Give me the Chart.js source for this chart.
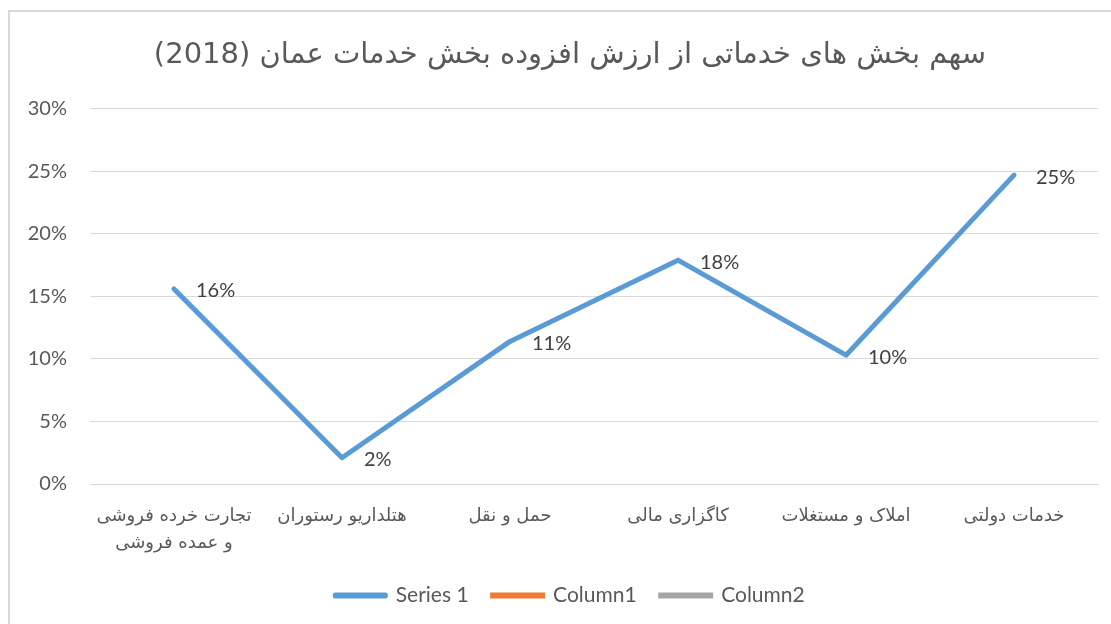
<!DOCTYPE html>
<html>
<head>
<meta charset="utf-8">
<script src="https://cdn.jsdelivr.net/npm/chart.js@4"></script>
<style>
html,body{margin:0;padding:0;background:#fff;width:1111px;height:624px;overflow:hidden;position:relative;}
#frame{position:absolute;left:8px;top:10px;width:1124px;height:624px;border-left:2px solid #D9D9D9;border-top:2px solid #D9D9D9;box-sizing:border-box;}
#c{position:absolute;left:8px;top:10px;}
</style>
</head>
<body>
<div id="frame"></div>
<canvas id="c" width="1124" height="624"></canvas>
<script>
const chartTitle = 'سهم بخش های خدماتی از ارزش افزوده بخش خدمات عمان (2018)';
const categories = [
  ['تجارت خرده فروشی', 'و عمده فروشی'],
  'هتلداریو رستوران',
  'حمل و نقل',
  'کاگزاری مالی',
  'املاک و مستغلات',
  'خدمات دولتی'
];
const series1 = [15.6, 2.1, 11.4, 17.9, 10.3, 24.7];
const column1 = [];
const column2 = [];
const yTicks = [0, 5, 10, 15, 20, 25, 30];

const latin = 'Lato, "Open Sans", sans-serif';
const arabic = '"DejaVu Sans", sans-serif';
const textColor = '#595959';

const dataLabels = {
  id: 'dataLabels',
  afterDatasetsDraw(chart) {
    const ctx = chart.ctx;
    const meta = chart.getDatasetMeta(0);
    ctx.save();
    ctx.font = '20px ' + latin;
    ctx.fillStyle = '#404040';
    ctx.textAlign = 'left';
    ctx.textBaseline = 'middle';
    meta.data.forEach((pt, i) => {
      ctx.fillText(Math.round(series1[i]) + '%', pt.x + 22, pt.y + 2);
    });
    ctx.restore();
  }
};

new Chart(document.getElementById('c'), {
  type: 'line',
  data: {
    labels: categories,
    datasets: [
      {label: 'Series 1', data: series1, borderColor: '#5B9BD5', backgroundColor: '#5B9BD5', borderWidth: 5, pointRadius: 0, borderCapStyle: 'round', borderJoinStyle: 'round', tension: 0},
      {label: 'Column1', data: column1, borderColor: '#ED7D31', backgroundColor: '#ED7D31', borderWidth: 5, pointRadius: 0, borderCapStyle: 'round'},
      {label: 'Column2', data: column2, borderColor: '#A5A5A5', backgroundColor: '#A5A5A5', borderWidth: 5, pointRadius: 0, borderCapStyle: 'round'}
    ]
  },
  options: {
    responsive: false,
    animation: false,
    devicePixelRatio: 1,
    layout: {padding: {left: 0, right: 0, top: 0, bottom: 18}},
    plugins: {
      tooltip: {enabled: false},
      title: {
        display: true,
        text: '\u202B' + chartTitle + '\u202C',
        color: textColor,
        font: {family: arabic, size: 29, weight: 'normal'},
        padding: {top: 28, bottom: 36}
      },
      legend: {
        position: 'bottom',
        labels: {
          color: textColor,
          font: {family: latin, size: 21},
          boxWidth: 50,
          boxHeight: 1,
          padding: 24
        }
      }
    },
    scales: {
      x: {
        offset: true,
        grid: {display: false, drawTicks: false},
        border: {display: true, color: '#D9D9D9', width: 1},
        ticks: {color: textColor, font: {family: arabic, size: 18, lineHeight: 1.5}, maxRotation: 0, autoSkip: false, padding: 19},
        afterFit(scale) { scale.height -= 15; }
      },
      y: {
        min: 0, max: 30,
        afterBuildTicks(scale) { scale.ticks = yTicks.map(v => ({value: v})); },
        afterFit(scale) { scale.width = 82; },
        grid: {color: '#D9D9D9', lineWidth: 1, drawTicks: false},
        border: {display: false},
        ticks: {color: textColor, font: {family: latin, size: 20}, padding: 23, callback: v => v + '%'}
      },
      yRight: {
        position: 'right',
        min: 0, max: 30,
        grid: {display: false, drawTicks: false},
        border: {display: false},
        ticks: {display: false},
        afterFit(scale) { scale.width = 34; }
      }
    }
  },
  plugins: [dataLabels]
});
</script>
</body>
</html>
